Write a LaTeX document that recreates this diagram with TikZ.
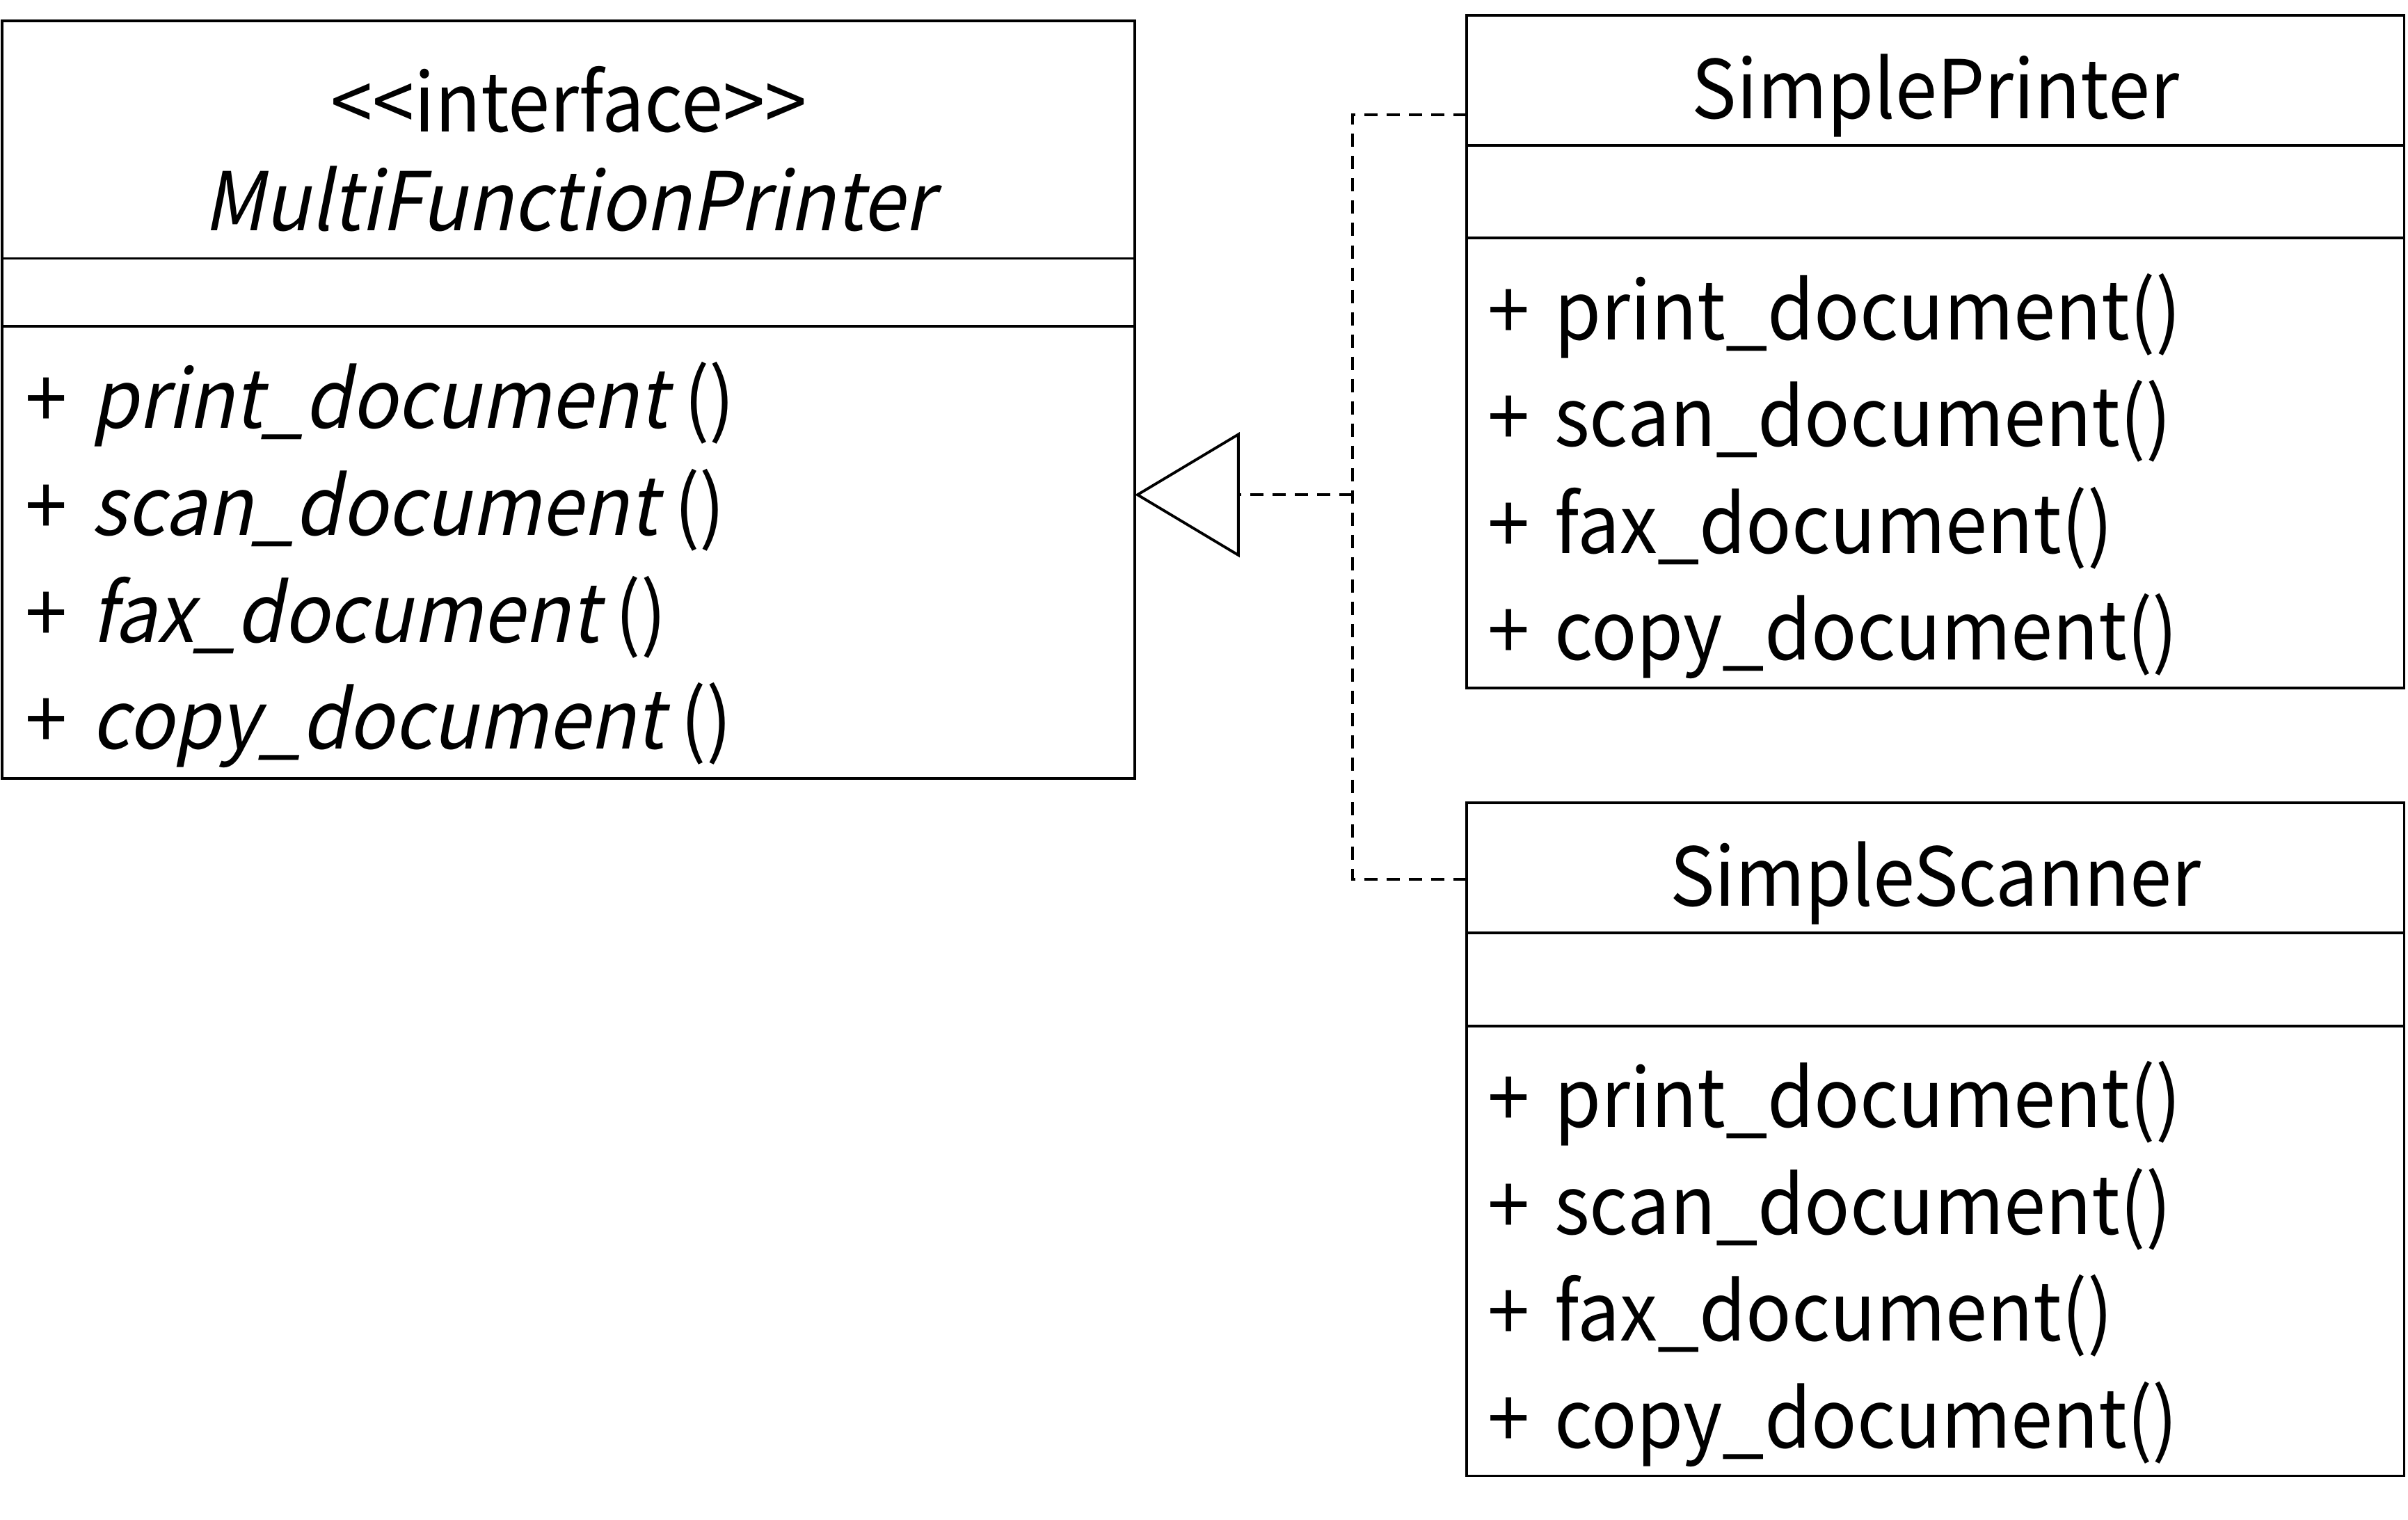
\documentclass[tikz,border=0pt]{standalone}
\usepackage{fontspec}
\setmainfont{Noto Sans CJK JP}[FakeStretch=0.93, ItalicFont={Noto Sans CJK JP}, ItalicFeatures={FakeSlant=0.2}]
\usetikzlibrary{arrows.meta}
\tikzset{
  cls/.style={draw, rectangle, inner sep=0pt, outer sep=0pt, anchor=north west, minimum width=61mm, minimum height=43.79mm},
  txt/.style={inner sep=0pt, font=\fontsize{15}{18}\selectfont},
  impl/.style={dash pattern=on 0.86mm off 0.59mm},
}
\newcommand\pub{+\hspace{1.6mm}}
\begin{document}
\begin{tikzpicture}[x=0.1mm, y=-0.1mm, line width=0.5pt]
\useasboundingbox (0,0) rectangle (1567,989);
% interface
\node[cls, minimum width=73.7mm, minimum height=49.28mm] (iface) at (1.5,13.7) {};
\draw (iface.west |- 0,168.2) -- (iface.east |- 0,168.2);
\draw (iface.west |- 0,212.2) -- (iface.east |- 0,212.2);
\node[txt] (istereo) at (370,86)[anchor=base]{<\kern0pt<interface>\kern0pt>};
\node[txt] (iname) at (370,150)[anchor=base]{\itshape MultiFunctionPrinter};
\node[txt] (im1) at (15.5,278.8)[anchor=base west]{\pub\textit{print\_document} ()};
\node[txt] (im2) at (15.5,348.4)[anchor=base west]{\pub\textit{scan\_document} ()};
\node[txt] (im3) at (15.5,418)[anchor=base west]{\pub\textit{fax\_document} ()};
\node[txt] (im4) at (15.5,487.6)[anchor=base west]{\pub\textit{copy\_document} ()};
% printer
\node[cls] (printer) at (954.5,9.9) {};
\draw (printer.west |- 0,94.6) -- (printer.east |- 0,94.6);
\draw (printer.west |- 0,155) -- (printer.east |- 0,155);
\node[txt] (pname) at (1259.5,77)[anchor=base]{SimplePrinter};
\node[txt] (pm1) at (967.5,221)[anchor=base west]{\pub print\_document()};
\node[txt] (pm2) at (967.5,290.5)[anchor=base west]{\pub scan\_document()};
\node[txt] (pm3) at (967.5,360)[anchor=base west]{\pub fax\_document()};
\node[txt] (pm4) at (967.5,429.5)[anchor=base west]{\pub copy\_document()};
% scanner
\node[cls] (scanner) at (954.5,522.6) {};
\draw (scanner.west |- 0,607.3) -- (scanner.east |- 0,607.3);
\draw (scanner.west |- 0,667.7) -- (scanner.east |- 0,667.7);
\node[txt] (sname) at (1259.5,589.7)[anchor=base]{SimpleScanner};
\node[txt] (sm1) at (967.5,733.7)[anchor=base west]{\pub print\_document()};
\node[txt] (sm2) at (967.5,803.2)[anchor=base west]{\pub scan\_document()};
\node[txt] (sm3) at (967.5,872.7)[anchor=base west]{\pub fax\_document()};
\node[txt] (sm4) at (967.5,942.2)[anchor=base west]{\pub copy\_document()};
% realization
\coordinate (fork) at (880,322);
\draw[impl, -{Triangle[open, length=6.82mm, width=8.12mm]}] (fork) -- (iface.east |- fork);
\draw[impl] (printer.west |- 0,74.6) -| (fork) |- (scanner.west |- 0,572.4);
\end{tikzpicture}
\end{document}
